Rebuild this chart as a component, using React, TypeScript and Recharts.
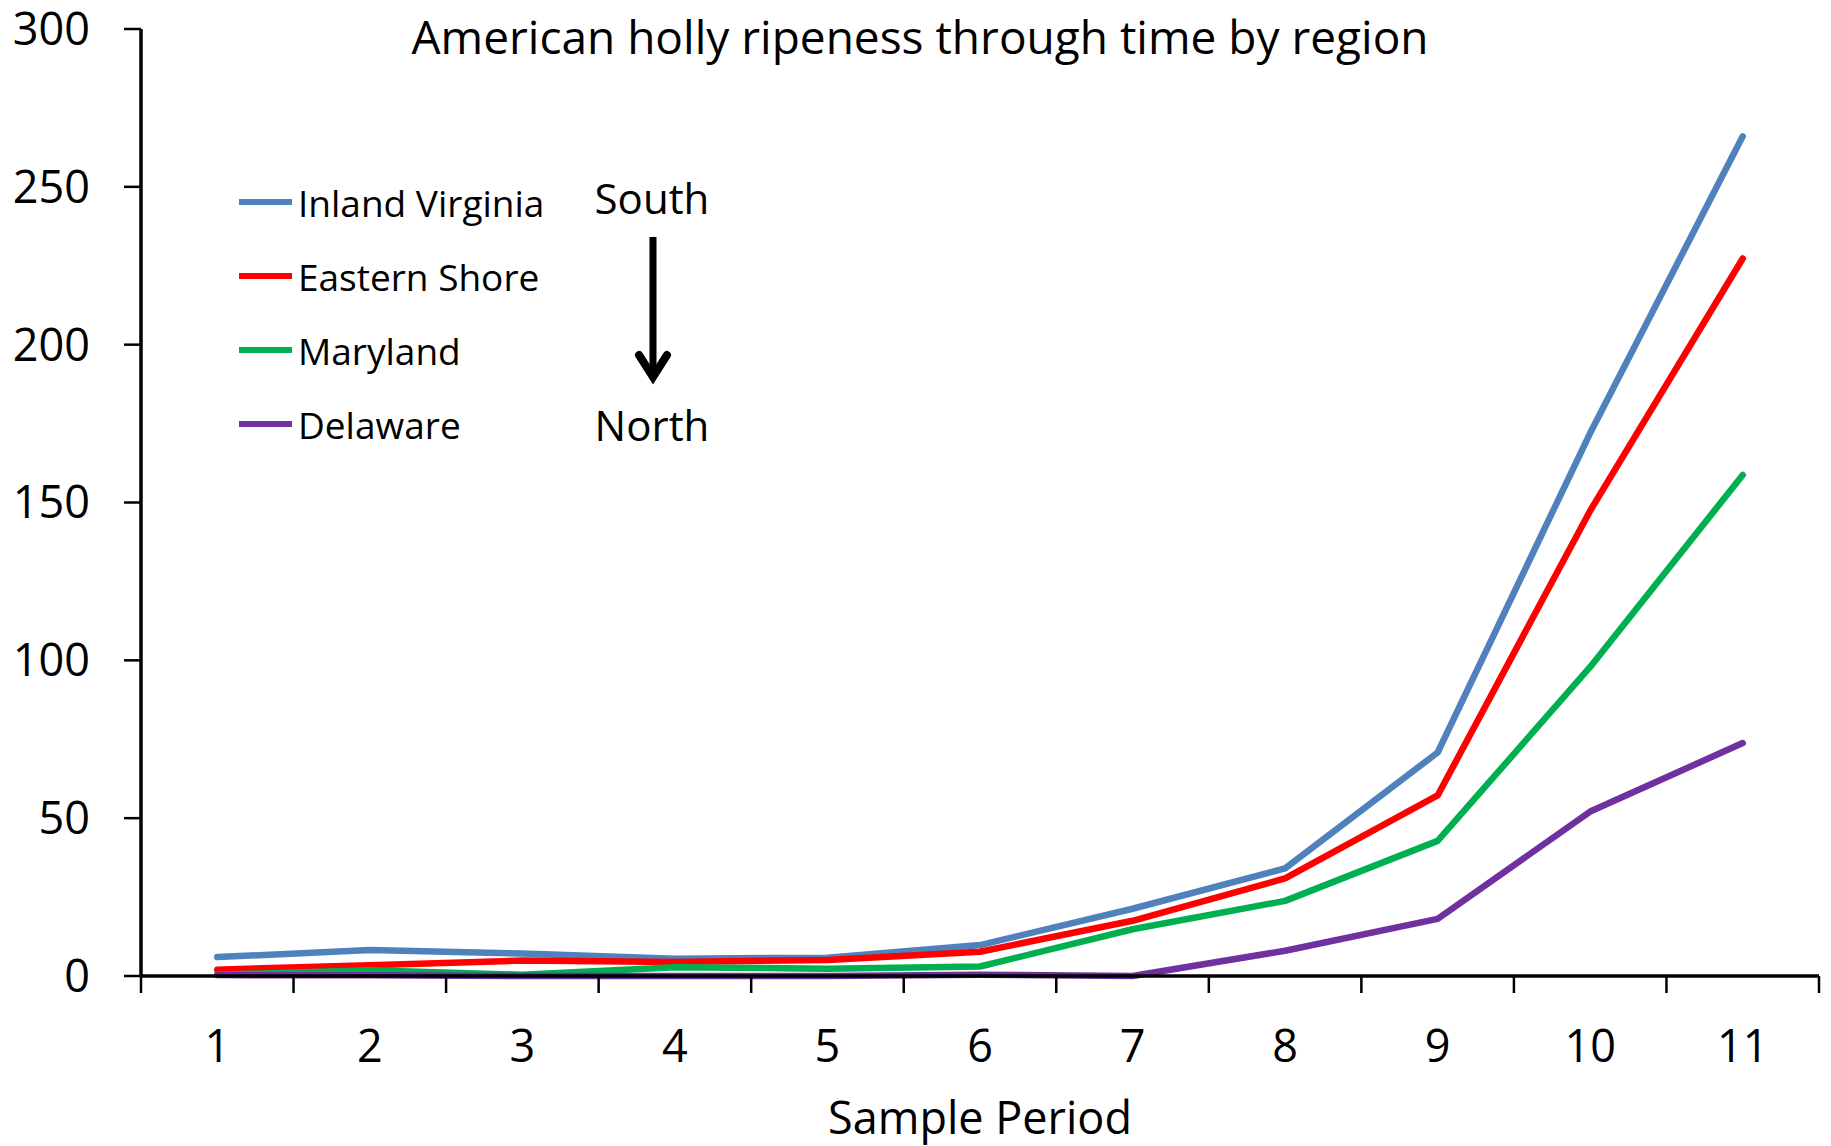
import { LineChart, Line, XAxis, YAxis, Legend } from 'recharts'

// Sample periods and ripeness values per region
const periods = [1, 2, 3, 4, 5, 6, 7, 8, 9, 10, 11]
const inlandVirginia = [6.0, 8.2, 7.1, 5.5, 5.8, 9.8, 21.3, 34.1, 70.8, 172, 266]
const easternShore = [2.0, 3.4, 4.9, 4.4, 5.1, 7.7, 17.5, 30.9, 57.2, 147.4, 227.3]
const maryland = [0.4, 1.8, 0.4, 2.8, 2.3, 3.0, 14.8, 23.8, 42.8, 97.9, 158.7]
const delaware = [0.3, 0.2, 0, 0, 0, 0.4, 0, 8.0, 18.1, 52.1, 73.8]
const yTicks = [0, 50, 100, 150, 200, 250, 300]

const series = [
  { key: 'Inland Virginia', values: inlandVirginia, color: '#4F81BD' },
  { key: 'Eastern Shore', values: easternShore, color: '#FF0000' },
  { key: 'Maryland', values: maryland, color: '#00B050' },
  { key: 'Delaware', values: delaware, color: '#7030A0' },
]

const data = periods.map((p, i) => {
  const row: any = { period: p }
  series.forEach((s) => {
    row[s.key] = s.values[i]
  })
  return row
})

// tick marks sit between the categories, like Excel
const boundaryTicks = [...periods.map((p) => p - 0.5), periods[periods.length - 1] + 0.5]
const xDomain = [boundaryTicks[0], boundaryTicks[boundaryTicks.length - 1]]

const FONT = '"Open Sans", sans-serif'

// keep legend in series order (recharts sorts the payload by name otherwise)
function LegendBox() {
  return (
    <div style={{ display: 'flex', flexDirection: 'column' }}>
      {series.map((s) => (
        <div key={s.key} style={{ height: 74, display: 'flex', alignItems: 'center' }}>
          <div style={{ width: 53, height: 6, background: s.color, marginRight: 6 }} />
          <span style={{ fontSize: 37, color: '#000', fontFamily: FONT }}>{s.key}</span>
        </div>
      ))}
    </div>
  )
}

export default function App() {
  return (
    <div
      style={{
        position: 'absolute',
        left: 0,
        top: 0,
        width: 1831,
        height: 1146,
        background: '#fff',
        fontFamily: FONT,
      }}
    >
      <LineChart width={1831} height={1146} data={data} margin={{ top: 29, right: 12, bottom: 168, left: 0 }}>
        <XAxis
          xAxisId="frame"
          dataKey="period"
          type="number"
          domain={xDomain}
          ticks={boundaryTicks}
          tickFormatter={() => ''}
          tickSize={17}
          height={1}
          axisLine={{ stroke: '#000', strokeWidth: 3.5 }}
          tickLine={{ stroke: '#000', strokeWidth: 2.5 }}
          label={{ value: 'Sample Period', position: 'bottom', offset: 125, fontSize: 45, fill: '#000' }}
        />
        <XAxis
          xAxisId="labels"
          dataKey="period"
          type="number"
          domain={xDomain}
          allowDataOverflow
          ticks={periods}
          tickSize={0}
          tickMargin={53}
          height={1}
          axisLine={false}
          tickLine={false}
          tick={{ fontSize: 45, fill: '#000' }}
        />
        <YAxis
          type="number"
          domain={[0, 300]}
          ticks={yTicks}
          width={141}
          tickSize={17}
          tickMargin={34}
          axisLine={{ stroke: '#000', strokeWidth: 3.5 }}
          tickLine={{ stroke: '#000', strokeWidth: 2.5 }}
          tick={{ fontSize: 45, fill: '#000' }}
        />
        <Legend
          layout="horizontal"
          verticalAlign="middle"
          align="center"
          content={<LegendBox />}
          wrapperStyle={{ left: 239, top: 165, width: 'auto' }}
        />
        {series.map((s) => (
          <Line
            key={s.key}
            xAxisId="frame"
            type="linear"
            dataKey={s.key}
            name={s.key}
            stroke={s.color}
            strokeWidth={6.5}
            strokeLinecap="round"
            strokeLinejoin="round"
            dot={false}
            activeDot={false}
            isAnimationActive={false}
          />
        ))}
      </LineChart>
      <svg
        width={1831}
        height={1146}
        style={{ position: 'absolute', left: 0, top: 0, pointerEvents: 'none' }}
      >
        <text x={920} y={54} textAnchor="middle" fontSize={46} fill="#000">
          American holly ripeness through time by region
        </text>
        <text x={652} y={214} textAnchor="middle" fontSize={42} fill="#000">
          South
        </text>
        <line x1={653} y1={237} x2={653} y2={376} stroke="#000" strokeWidth={7} />
        <polyline
          points="639,355 653,377 667,355"
          fill="none"
          stroke="#000"
          strokeWidth={8}
          strokeLinecap="round"
          strokeLinejoin="miter"
        />
        <text x={652} y={441} textAnchor="middle" fontSize={42} fill="#000">
          North
        </text>
      </svg>
    </div>
  )
}
